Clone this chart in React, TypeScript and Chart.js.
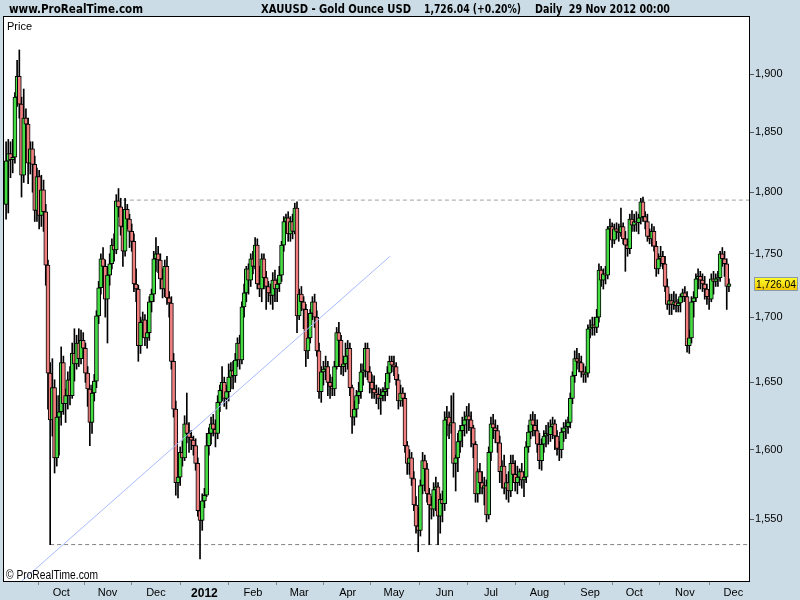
import { useEffect, useRef } from "react";
import { Chart, registerables } from "chart.js";

Chart.register(...registerables);

// ---- Daily XAUUSD candles, 29 Aug 2011 .. 29 Nov 2012 (index = trading day) ----
const opens = [
  1790,1826,1832,1827,1829,1880,1898,1874,1814,1862,
  1857,1824,1836,1823,1785,1813,1781,1802,1784,1741,
  1657,1622,1646,1594,1624,1628,1665,1634,1640,1652,
  1640,1672,1664,1680,1668,1682,1676,1657,1645,1620,
  1642,1651,1701,1723,1746,1740,1714,1733,1742,1757,
  1753,1793,1788,1772,1752,1786,1778,1768,1760,1726,
  1722,1678,1696,1698,1684,1688,1712,1718,1746,1750,
  1745,1730,1722,1740,1715,1711,1666,1630,1576,1580,
  1598,1594,1619,1612,1609,1607,1603,1590,1556,1549,
  1563,1567,1603,1612,1619,1615,1612,1635,1644,1650,
  1638,1643,1654,1659,1655,1667,1680,1667,1708,1719,
  1738,1729,1746,1740,1757,1726,1722,1746,1731,1724,
  1719,1717,1729,1722,1726,1733,1757,1776,1779,1766,
  1776,1768,1787,1701,1718,1712,1706,1674,1684,1703,
  1712,1700,1674,1643,1658,1660,1662,1650,1647,1645,
  1662,1688,1682,1662,1664,1670,1676,1646,1624,1630,
  1640,1643,1658,1659,1676,1658,1650,1645,1642,1641,
  1638,1640,1643,1645,1657,1666,1663,1662,1652,1636,
  1642,1638,1603,1590,1594,1579,1560,1545,1542,1574,
  1592,1586,1568,1560,1557,1571,1573,1552,1564,1561,
  1622,1624,1618,1620,1590,1594,1606,1614,1618,1622,
  1625,1622,1616,1604,1568,1584,1576,1572,1574,1553,
  1598,1619,1616,1614,1605,1584,1588,1572,1576,1570,
  1590,1582,1576,1580,1584,1578,1580,1602,1613,1622,
  1618,1614,1604,1592,1604,1610,1612,1611,1617,1619,
  1610,1601,1600,1613,1616,1617,1620,1638,1655,1668,
  1666,1665,1658,1656,1657,1691,1692,1694,1692,1700,
  1737,1729,1734,1733,1770,1772,1761,1770,1768,1767,
  1772,1762,1757,1754,1778,1773,1776,1775,1779,1792,
  1780,1776,1764,1762,1768,1756,1738,1746,1748,1742,
  1724,1710,1713,1710,1712,1709,1711,1716,1719,1716,
  1678,1684,1712,1715,1730,1732,1729,1726,1722,1716,
  1714,1730,1728,1730,1731,1750,1746,1742,1724,
];
const highs = [
  1842,1844,1842,1844,1884,1912,1921,1880,1887,1870,
  1862,1842,1842,1830,1820,1818,1814,1810,1790,1745,
  1665,1668,1652,1640,1640,1677,1670,1645,1658,1662,
  1680,1691,1686,1691,1690,1688,1680,1662,1648,1648,
  1656,1705,1728,1750,1755,1745,1740,1750,1762,1766,
  1798,1803,1795,1778,1795,1790,1782,1774,1766,1738,
  1725,1700,1704,1702,1692,1716,1722,1752,1763,1756,
  1750,1738,1745,1748,1720,1716,1672,1636,1592,1602,
  1606,1625,1642,1620,1614,1610,1608,1594,1560,1568,
  1572,1612,1616,1624,1626,1622,1640,1648,1662,1654,
  1648,1664,1665,1666,1672,1684,1686,1712,1726,1740,
  1742,1750,1752,1763,1762,1740,1750,1750,1736,1728,
  1726,1735,1737,1730,1740,1760,1780,1782,1784,1780,
  1782,1791,1792,1722,1724,1716,1710,1696,1706,1716,
  1718,1705,1680,1662,1666,1670,1666,1656,1654,1666,
  1692,1696,1686,1670,1680,1682,1680,1648,1636,1644,
  1650,1664,1664,1680,1680,1662,1656,1655,1648,1646,
  1645,1646,1650,1662,1670,1670,1670,1665,1656,1648,
  1646,1642,1606,1600,1598,1584,1566,1558,1578,1598,
  1596,1590,1572,1566,1576,1580,1576,1568,1570,1628,
  1632,1628,1640,1642,1596,1612,1618,1624,1628,1632,
  1634,1628,1618,1606,1586,1590,1584,1580,1578,1602,
  1624,1626,1622,1618,1610,1592,1596,1582,1584,1596,
  1596,1592,1588,1586,1590,1584,1606,1618,1626,1628,
  1626,1622,1612,1608,1614,1618,1620,1622,1624,1622,
  1614,1606,1616,1620,1622,1624,1642,1658,1674,1676,
  1672,1670,1664,1662,1694,1698,1700,1700,1706,1742,
  1740,1738,1740,1772,1778,1775,1774,1775,1774,1787,
  1775,1768,1762,1782,1785,1782,1784,1782,1795,1796,
  1784,1782,1770,1774,1772,1760,1750,1756,1752,1748,
  1730,1718,1718,1720,1718,1714,1718,1722,1724,1720,
  1690,1716,1720,1734,1738,1736,1734,1732,1726,1720,
  1734,1736,1734,1736,1752,1755,1752,1746,1730,
];
const lows = [
  1778,1783,1812,1816,1824,1872,1862,1796,1808,1845,
  1807,1815,1800,1776,1776,1770,1772,1768,1725,1630,
  1532,1610,1583,1588,1596,1618,1626,1620,1630,1633,
  1638,1651,1660,1662,1664,1668,1650,1632,1603,1612,
  1636,1646,1695,1718,1730,1700,1680,1725,1738,1744,
  1750,1780,1765,1740,1748,1770,1755,1752,1720,1712,
  1666,1672,1684,1678,1676,1682,1704,1712,1736,1735,
  1722,1715,1716,1710,1700,1660,1624,1567,1565,1574,
  1588,1592,1605,1598,1600,1596,1585,1552,1522,1542,
  1558,1566,1596,1604,1610,1602,1608,1628,1636,1632,
  1630,1636,1645,1645,1650,1662,1660,1664,1700,1712,
  1718,1724,1734,1738,1722,1716,1712,1722,1706,1712,
  1710,1706,1712,1712,1720,1728,1752,1768,1760,1760,
  1762,1766,1688,1698,1705,1691,1662,1668,1680,1698,
  1692,1670,1638,1635,1648,1652,1640,1638,1640,1640,
  1660,1676,1656,1655,1658,1660,1640,1612,1618,1624,
  1634,1638,1648,1654,1652,1642,1638,1638,1634,1630,
  1626,1636,1636,1640,1650,1658,1655,1648,1630,1632,
  1632,1598,1582,1582,1574,1556,1540,1527,1538,1568,
  1570,1562,1532,1550,1552,1556,1532,1540,1548,1556,
  1610,1608,1612,1580,1570,1584,1598,1602,1610,1612,
  1614,1602,1594,1562,1562,1568,1568,1560,1548,1550,
  1592,1608,1605,1598,1576,1572,1568,1564,1562,1566,
  1576,1570,1568,1574,1572,1566,1576,1598,1608,1610,
  1610,1598,1586,1585,1598,1602,1604,1606,1608,1600,
  1596,1592,1594,1606,1608,1612,1616,1634,1650,1660,
  1658,1654,1650,1650,1654,1684,1686,1686,1688,1696,
  1724,1722,1726,1730,1762,1755,1758,1762,1760,1764,
  1758,1736,1748,1750,1768,1768,1768,1766,1774,1776,
  1770,1760,1758,1756,1752,1732,1734,1740,1738,1720,
  1706,1702,1702,1706,1704,1704,1704,1712,1712,1673,
  1672,1680,1700,1712,1722,1722,1720,1714,1710,1706,
  1712,1718,1724,1724,1728,1740,1732,1706,1720,
];
const closes = [
  1826,1832,1827,1829,1880,1898,1874,1814,1862,1857,
  1824,1836,1823,1785,1813,1781,1802,1784,1741,1657,
  1622,1646,1594,1624,1628,1665,1634,1640,1652,1640,
  1672,1664,1680,1668,1682,1676,1657,1645,1620,1642,
  1651,1701,1723,1746,1740,1714,1733,1742,1757,1753,
  1793,1788,1772,1752,1786,1778,1768,1760,1726,1722,
  1678,1696,1698,1684,1688,1712,1718,1746,1750,1745,
  1730,1722,1740,1715,1711,1666,1630,1576,1580,1598,
  1594,1619,1612,1609,1607,1603,1590,1556,1549,1563,
  1567,1603,1612,1619,1615,1612,1635,1644,1650,1638,
  1643,1654,1659,1655,1667,1680,1667,1708,1719,1738,
  1729,1746,1740,1757,1726,1722,1746,1731,1724,1719,
  1717,1729,1722,1726,1733,1757,1776,1779,1766,1776,
  1768,1787,1701,1718,1712,1706,1674,1684,1703,1712,
  1700,1674,1643,1658,1660,1662,1650,1647,1645,1662,
  1688,1682,1662,1664,1670,1676,1646,1624,1630,1640,
  1643,1658,1659,1676,1658,1650,1645,1642,1641,1638,
  1640,1643,1645,1657,1666,1663,1662,1652,1636,1642,
  1638,1603,1590,1594,1579,1560,1545,1542,1574,1592,
  1586,1568,1560,1557,1571,1573,1552,1564,1561,1622,
  1624,1618,1620,1590,1594,1606,1614,1618,1622,1625,
  1622,1616,1604,1568,1584,1576,1572,1574,1553,1598,
  1619,1616,1614,1605,1584,1588,1572,1576,1570,1590,
  1582,1576,1580,1584,1578,1580,1602,1613,1622,1618,
  1614,1604,1592,1604,1610,1612,1611,1617,1619,1610,
  1601,1600,1613,1616,1617,1620,1638,1655,1668,1666,
  1665,1658,1656,1657,1691,1692,1694,1692,1700,1737,
  1729,1734,1733,1770,1772,1761,1770,1768,1767,1772,
  1762,1757,1754,1778,1773,1776,1775,1779,1792,1780,
  1776,1764,1762,1768,1756,1738,1746,1748,1742,1724,
  1710,1713,1710,1712,1709,1711,1716,1719,1716,1678,
  1684,1712,1715,1730,1732,1729,1726,1722,1716,1714,
  1730,1728,1730,1731,1750,1746,1742,1724,1726.04,
];

// month-start trading-day indices and their labels
const monthTickIndex = [25, 46, 68, 90, 112, 133, 155, 176, 199, 220, 242, 265, 285, 308, 330];
const monthTickLabels = ["Oct", "Nov", "Dec", "2012", "Feb", "Mar", "Apr", "May", "Jun", "Jul", "Aug", "Sep", "Oct", "Nov", "Dec"];
const priceTicks = [1550, 1600, 1650, 1700, 1750, 1800, 1850, 1900];

// drawn horizontal levels and trend line (index, price)
const resistanceFrom = 53;
const resistanceLevel = 1793.5;
const supportFrom = 20;
const supportLevel = 1532;
const trendIdx = [5, 174.2];
const trendPrice = [1503.8, 1748];

const lastPrice = 1726.04;
const headerSite = "www.ProRealTime.com";
const headerSymbol = "XAUUSD - Gold Ounce USD";
const headerQuote = "1,726.04 (+0.20%)";
const headerPeriod = "Daily  29 Nov 2012 00:00";

const X_MIN = -0.95;
const X_MAX = 337.1;
const Y_MIN = 1506.7;
const Y_MAX = 1950.2;

const BG = "#cbdce6";
const UP = "#44dd44";
const DOWN = "#f08080";
const SANS = '"Liberation Sans", Arial, sans-serif';
const NARROW = '"Liberation Sans Narrow", "DejaVu Sans Condensed", "Arial Narrow", sans-serif';

function fitText(ctx: CanvasRenderingContext2D, text: string, x: number, y: number, width: number, font: string) {
  ctx.save();
  ctx.font = font;
  const w = ctx.measureText(text).width;
  ctx.translate(x, y);
  ctx.scale(width / w, 1);
  ctx.fillText(text, 0, 0);
  ctx.restore();
}

const decorPlugin = {
  id: "decor",
  beforeDraw(chart: any) {
    const { ctx, chartArea: a } = chart;
    ctx.save();
    ctx.fillStyle = BG;
    ctx.fillRect(0, 0, chart.width, chart.height);
    ctx.fillStyle = "#ffffff";
    ctx.fillRect(a.left, a.top, a.right - a.left, a.bottom - a.top);
    ctx.restore();
  },
  afterDraw(chart: any) {
    const { ctx, chartArea: a } = chart;
    ctx.save();
    ctx.strokeStyle = "#000";
    ctx.lineWidth = 1;
    ctx.strokeRect(a.left - 0.5, a.top - 0.5, a.right - a.left + 1, a.bottom - a.top + 1);

    ctx.fillStyle = "#000";
    ctx.textBaseline = "alphabetic";
    fitText(ctx, headerSite, 9, 13, 134, "bold 13px " + NARROW);
    fitText(ctx, headerSymbol, 261, 13, 150, "bold 13px " + NARROW);
    fitText(ctx, headerQuote, 424, 13, 97, "bold 13px " + NARROW);
    fitText(ctx, headerPeriod, 535, 13, 135, "bold 13px " + NARROW);

    ctx.font = "11px " + SANS;
    ctx.fillText("Price", a.left + 3, a.top + 13);
    fitText(ctx, "\u00a9 ProRealTime.com", a.left + 2, a.bottom - 2, 92, "12px " + SANS);

    // last price marker on the right axis
    const y = chart.scales.y.getPixelForValue(lastPrice);
    const bx = a.right + 5, bw = 44, bh = 14;
    const g = ctx.createLinearGradient(0, y - bh / 2, 0, y + bh / 2);
    g.addColorStop(0, "#ffff30");
    g.addColorStop(1, "#f2c400");
    ctx.fillStyle = g;
    ctx.fillRect(bx, Math.round(y - bh / 2), bw, bh);
    ctx.strokeStyle = "#8a9aa8";
    ctx.strokeRect(bx + 0.5, Math.round(y - bh / 2) + 0.5, bw - 1, bh - 1);
    ctx.fillStyle = "#000";
    ctx.font = "11px " + SANS;
    ctx.textBaseline = "middle";
    fitText(ctx, lastPrice.toLocaleString("en-US", { minimumFractionDigits: 2 }), bx + 2, Math.round(y) + 1, 40, "11px " + SANS);
    ctx.restore();
  },
};

export default function App() {
  const ref = useRef<HTMLCanvasElement>(null);

  useEffect(() => {
    const canvas = ref.current;
    if (!canvas) return;
    const idx = closes.map((_, i) => i);
    const chart = new Chart(canvas, {
      type: "bar",
      data: {
        datasets: [
          {
            type: "line",
            data: [{ x: trendIdx[0], y: trendPrice[0] }, { x: trendIdx[1], y: trendPrice[1] }],
            borderColor: "#a8bcff",
            borderWidth: 1,
            pointRadius: 0,
            order: 0,
          } as any,
          {
            type: "line",
            data: [{ x: resistanceFrom, y: resistanceLevel }, { x: X_MAX, y: resistanceLevel }],
            borderColor: "#a0a0a0",
            borderWidth: 1,
            borderDash: [4, 3],
            pointRadius: 0,
            order: 5,
          } as any,
          {
            type: "line",
            data: [{ x: supportFrom, y: supportLevel }, { x: X_MAX, y: supportLevel }],
            borderColor: "#808080",
            borderWidth: 1,
            borderDash: [4, 3],
            pointRadius: 0,
            order: 5,
          } as any,
          {
            type: "bar",
            data: idx.map((i) => ({ x: i, y: [lows[i], highs[i]] })),
            backgroundColor: "#000",
            borderWidth: 0,
            barThickness: 1,
            grouped: false,
            order: 3,
          } as any,
          {
            type: "bar",
            data: idx.map((i) => ({ x: i, y: [opens[i], closes[i]] })),
            backgroundColor: idx.map((i) => (closes[i] >= opens[i] ? UP : DOWN)),
            borderColor: "#000",
            borderWidth: 1,
            borderSkipped: false,
            barThickness: 4,
            grouped: false,
            order: 2,
          } as any,
        ],
      },
      options: {
        responsive: false,
        maintainAspectRatio: false,
        devicePixelRatio: 1,
        animation: false,
        layout: { padding: { left: 4, top: 17, right: 0, bottom: 0 } },
        plugins: { legend: { display: false }, tooltip: { enabled: false } },
        scales: {
          x: {
            type: "linear",
            position: "bottom",
            min: X_MIN,
            max: X_MAX,
            offset: false,
            afterBuildTicks: (s: any) => {
              s.ticks = monthTickIndex.map((v) => ({ value: v }));
            },
            afterFit: (s: any) => {
              s.height = 19;
            },
            ticks: {
              autoSkip: false,
              maxRotation: 0,
              padding: 1,
              color: "#000",
              callback: (_v: any, i: number) => monthTickLabels[i],
              font: (c: any) =>
                c.tick && c.tick.label === "2012"
                  ? { family: SANS, size: 12, weight: "bold" }
                  : { family: SANS, size: 11, weight: "normal" },
            },
            grid: { drawOnChartArea: false, drawTicks: true, tickLength: 4, color: "#8a8a8a" },
            border: { display: false },
          },
          y: {
            type: "logarithmic",
            position: "right",
            min: Y_MIN,
            max: Y_MAX,
            afterBuildTicks: (s: any) => {
              s.ticks = priceTicks.map((v) => ({ value: v }));
            },
            afterFit: (s: any) => {
              s.width = 51;
            },
            ticks: {
              padding: 1,
              color: "#000",
              font: { family: SANS, size: 11 },
              callback: (v: any) => Number(v).toLocaleString("en-US"),
            },
            grid: { drawOnChartArea: false, drawTicks: true, tickLength: 5, color: "#555" },
            border: { display: false },
          },
        },
      } as any,
      plugins: [decorPlugin],
    });
    return () => chart.destroy();
  }, []);

  return (
    <div style={{ position: "fixed", left: 0, top: 0, width: 800, height: 600 }}>
      <canvas ref={ref} width={800} height={600} style={{ width: 800, height: 600, display: "block" }} />
    </div>
  );
}
